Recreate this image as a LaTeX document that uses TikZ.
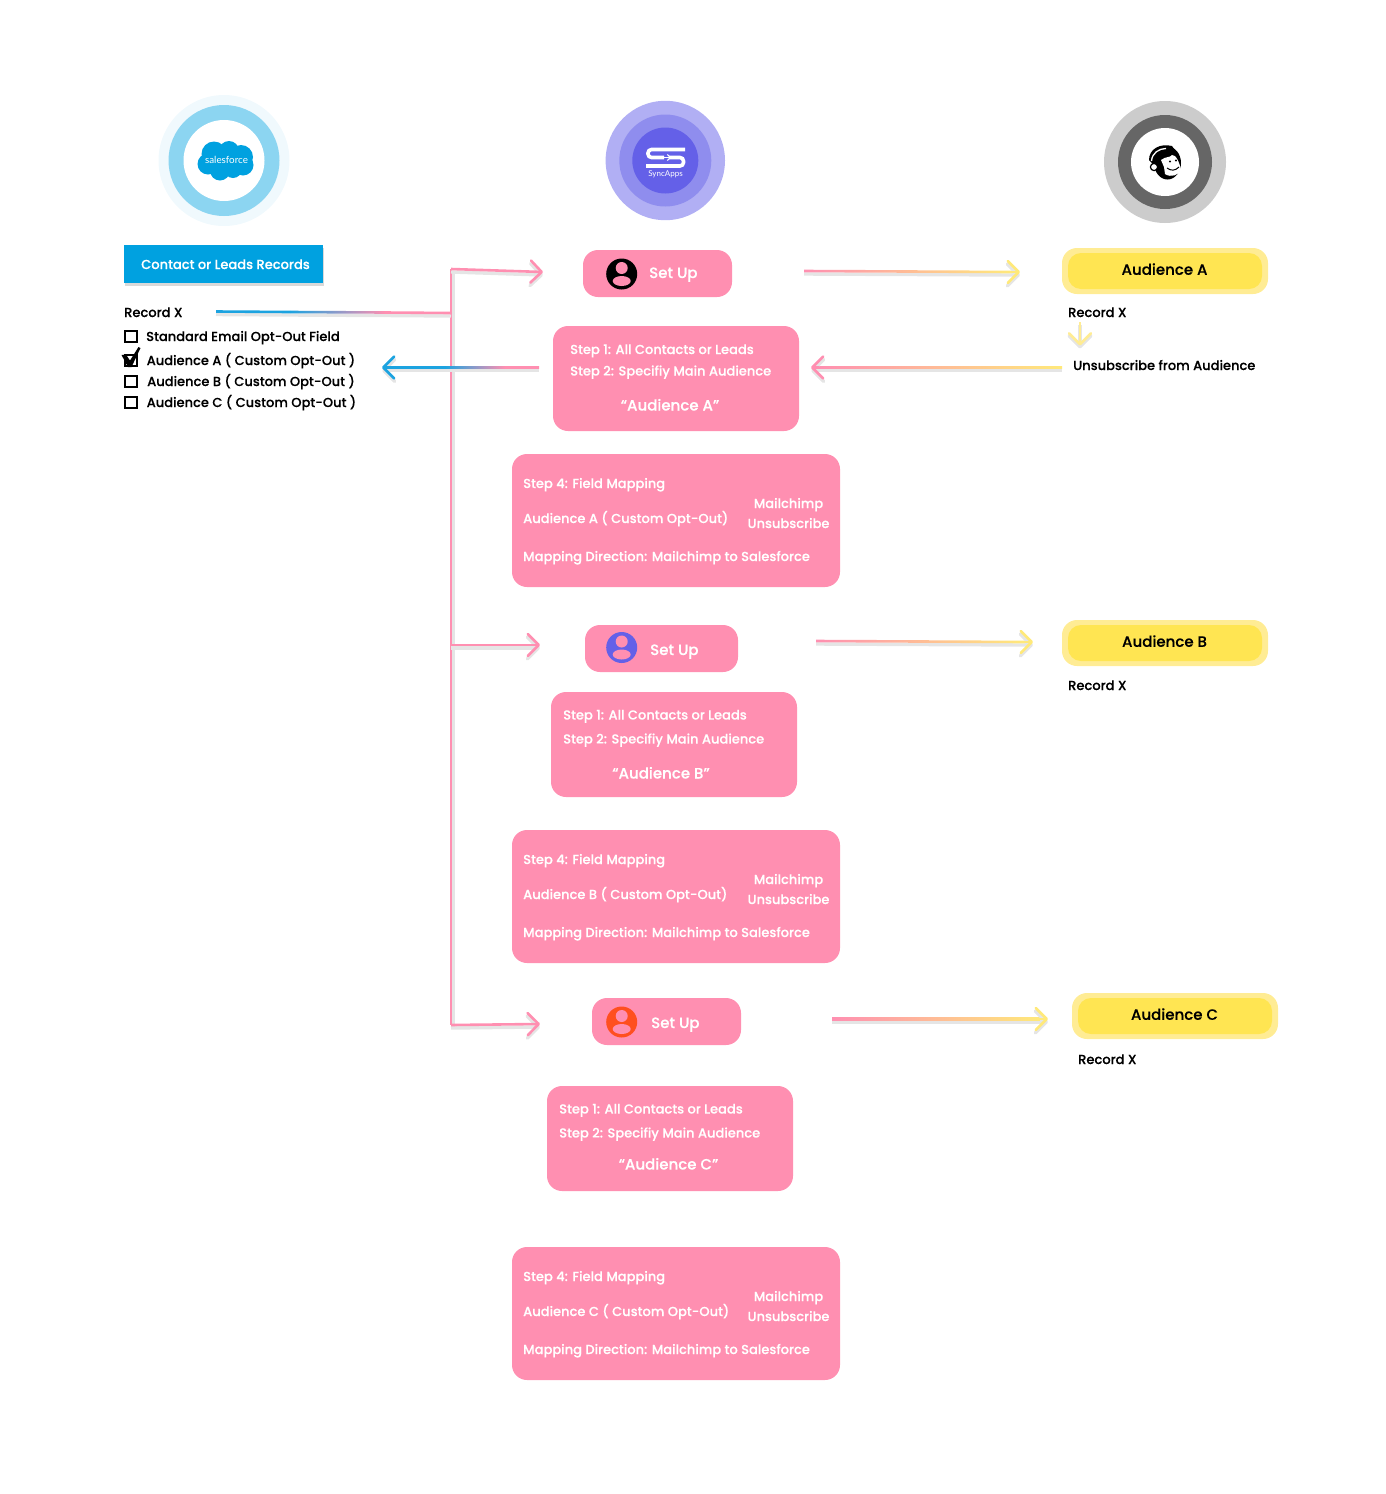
\documentclass[tikz,border=0pt]{standalone}
\usepackage{fontspec}
\setmainfont{Poppins Medium}[FakeBold=0.15]
\newfontfamily\logofont{Lato}
\usetikzlibrary{calc,arrows.meta,shadows}

\definecolor{sfblue}{HTML}{00A1E0}
\definecolor{linkblue}{HTML}{1CA3E0}
\definecolor{boxpink}{HTML}{FF8FB1}
\definecolor{audyellow}{HTML}{FFE552}
\definecolor{audpale}{HTML}{FFEC94}
\definecolor{linkyellow}{HTML}{FFE97A}
\definecolor{syncdark}{HTML}{6460E8}
\definecolor{userorange}{HTML}{FF4F1F}

\newcommand{\fsz}[1]{\fontsize{#1}{#1}\selectfont}
% colour run between two named points (left one first), with a soft shadow under it
\newcommand{\gradlink}[4]{
	\draw[linkshadow] ($(#1)+(0,3)$) -- ($(#2)+(0,3)$);
	\shade[left color=#3,middle color=#4!60!#3,right color=#4]
	($(#1)+(0,-1.3)$) -- ($(#1)+(0,1.3)$) -- ($(#2)+(0,1.3)$) -- ($(#2)+(0,-1.3)$) -- cycle;
}
\newcommand{\linkhead}[3]{
	\draw[linkshadow,linktip] ($(#1)+(0,3)$) -- ($(#2)+(0,3)$);
	\draw[linkline,linktip,color=#3] (#1) -- (#2);
}

\begin{document}
\begin{tikzpicture}[x=1pt,y=-1pt,
	linkline/.style={line width=2.6pt},
	linkshadow/.style={line width=3.4pt,black!10},
	linktip/.style={-{Straight Barb[length=11pt,width=22pt,round]}},
	pinkbox/.style={draw=none,fill=boxpink,rounded corners=15pt,inner sep=0pt},
	audbox/.style={draw=none,fill=audyellow,rounded corners=13pt,inner sep=0pt,minimum width=194pt,minimum height=36pt},
	audback/.style={draw=none,fill=audpale,rounded corners=15pt,inner sep=0pt,minimum width=206pt,minimum height=46pt},
	txt/.style={inner sep=0pt,text height=.9em,text depth=0pt,font=\fsz{13.05}},
	whitetxt/.style={txt,text=white},
	tick/.style={draw=black,line width=2pt,minimum size=11.5pt,inner sep=0pt}]
	\useasboundingbox (0,0) rectangle (1386,1494);

	% logos
	\foreach \r/\c in {65.5/sfblue!6,55.5/sfblue!45,40.5/white}
	\fill[\c] (224,160.5) circle[radius=\r pt];
	\foreach \x/\y/\r in {214/154/12.5,229/151/10,241/157/12,208/164/10.5,220/170.5/10,233/169/9,243/165/10.5,225/160/14}
	\fill[sfblue] (\x,\y) circle[radius=\r pt];
	\node[inner sep=0pt,text=white,font=\logofont\fsz{9.8}] (sflabel) at (226.5,159.5) {salesforce};

	\foreach \r/\c in {59.7/syncdark!50,46/syncdark!72,33/syncdark}
	\fill[\c] (665.3,160.5) circle[radius=\r pt];
	\draw[white,line width=3.6pt,rounded corners=3.5pt] (685,149.5) -- (648,149.5) -- (648,157.5) -- (664,157.5);
	\draw[white,line width=3.6pt,rounded corners=3.5pt] (669,157.5) -- (683.5,157.5) -- (683.5,166) -- (646,166);
	\draw[white,line width=1pt,-{Straight Barb[length=3pt,width=6pt]}] (664,157.5) -- (671,157.5);
	\node[inner sep=0pt,text=white,font=\logofont\fsz{8}] (synclabel) at (665.5,174) {SyncApps};

	\foreach \r/\c in {61/black!20,47/black!60,34/white}
	\fill[\c] (1165,162) circle[radius=\r pt];
	\fill[black] (1167.5,163) ellipse[x radius=13.5pt,y radius=16.5pt];
	\fill[black] (1149,160) .. controls (1149,149) and (1160,143) .. (1172,146) -- (1178,155) -- (1160,172) -- cycle;
	\draw[white,line width=1.3pt] (1151.5,161) .. controls (1152,153) and (1159,148.5) .. (1166,148.5);
	\fill[white] (1161,160) .. controls (1166,156) and (1170,158) .. (1172,155) .. controls (1176,154) and (1180,164) .. (1181,170) .. controls (1179,175) and (1171,178) .. (1165,174) -- (1164,167) -- cycle;
	\draw[black,line width=1pt] (1167,168) .. controls (1171,171) and (1175,171) .. (1179,167);
	\fill[black] (1170,161.5) circle[radius=1.2pt] (1176,160.5) circle[radius=1.2pt];
	\draw[black,fill=white,line width=1.2pt] (1154,167) circle[radius=3.6pt];

	% left column
	\node[draw=none,fill=sfblue,inner sep=0pt,minimum width=199pt,minimum height=38pt,
	drop shadow={opacity=.3,shadow xshift=1pt,shadow yshift=-3pt}] (records) at (223.5,264) {};
	\node[whitetxt] (recordstxt) at (225.5,264.5) {Contact or Leads Records};
	\node[txt,anchor=west] (recordx) at (124,312.5) {Record X};
	\foreach \n/\y/\tx/\t in {std/336.5/146/Standard Email Opt-Out Field,
		auda/360.5/146.5/Audience A ( Custom Opt-Out ),
		audb/381.5/147/Audience B ( Custom Opt-Out ),
		audc/402.5/146.5/Audience C ( Custom Opt-Out )}
	{\node[tick] (tick\n) at (131,\y) {};
		\node[txt,anchor=west] (lab\n) at (\tx,\y) {\t};}
	\fill[black] (121.5,355) -- (126,354.5) -- (130,360.5) -- (138.5,347) -- (140.5,348) -- (131.5,367) -- (128,367) -- cycle;

	% pink boxes
	\foreach \n/\x/\y/\w in {a/657.5/273.5/149,b/661.5/648.5/153,c/666.5/1021.5/149}
	\node[pinkbox,minimum width=\w pt,minimum height=47pt] (setup\n) at (\x,\y) {};
	\node[pinkbox,minimum width=246pt,minimum height=105pt] (stepa) at (676,378.5) {};
	\node[pinkbox,minimum width=246pt,minimum height=105pt] (stepb) at (674,744.5) {};
	\node[pinkbox,minimum width=246pt,minimum height=105pt] (stepc) at (670,1138.5) {};
	\foreach \n/\y in {a/520.5,b/896.5,c/1313.5}
	\node[pinkbox,minimum width=328pt,minimum height=133pt] (field\n) at (676,\y) {};

	% user icons
	\foreach \c/\x/\y in {black/621.7/274,syncdark/621.7/647.5,userorange/621.7/1022}
	{\fill[\c] (\x,\y) circle[radius=15.5pt];
		\fill[boxpink] (\x,\y-6) circle[radius=6pt];
		\fill[boxpink] (\x,\y+7) ellipse[x radius=9pt,y radius=5pt];}
	\foreach \n/\x/\y in {a/649/273.5,b/650/650.5,c/651/1023.5}
	\node[whitetxt,anchor=west,font=\fsz{15}] (setuptxt\n) at (\x,\y) {Set Up};

	\foreach \n/\x/\ya/\yb/\cx/\yc/\l in {a/570/349.5/371/670/406/A,b/563/715/739/661/774/B,c/559/1109/1133/668.5/1165/C}
	{\node[whitetxt,anchor=west] (stepone\n) at (\x,\ya) {Step 1: All Contacts or Leads};
		\node[whitetxt,anchor=west] (steptwo\n) at (\x,\yb) {Step 2: Specifiy Main Audience};
		\node[whitetxt,font=\fsz{15}] (stepname\n) at (\cx,\yc) {“Audience \l”};}

	\foreach \n/\y/\l in {a/0/A,b/376/B,c/793/C}
	{\node[whitetxt,anchor=west] (fieldone\n) at (523,483.5+\y) {Step 4: Field Mapping};
		\node[whitetxt,anchor=west] (fieldtwo\n) at (523,518.5+\y) {Audience \l\ ( Custom Opt-Out)};
		\node[whitetxt] (fieldmc\n) at (788.5,503.5+\y) {Mailchimp};
		\node[whitetxt] (fieldun\n) at (788.5,523.5+\y) {Unsubscribe};
		\node[whitetxt,anchor=west] (fielddir\n) at (523,556.5+\y) {Mapping Direction: Mailchimp to Salesforce};}

	% audiences
	\foreach \n/\x/\y/\l/\rx/\ry in {a/1165/271/A/1068/312.5,b/1165/643/B/1068/685.5,c/1175/1016/C/1078/1059.5}
	{\node[audback] (audback\n) at (\x,\y) {};
		\node[audbox] (aud\n) at (\x,\y) {};
		\node[txt,font=\fsz{15}] (audtxt\n) at (\x-.5,\y-.7) {Audience \l};
		\node[txt,anchor=west] (record\n) at (\rx,\ry) {Record X};}
	\node[txt,anchor=west] (unsub) at (1073,365.5) {Unsubscribe from Audience};

	% connectors
	\coordinate (spinetop) at (451,269);
	\coordinate (spinebot) at (451,1025);
	\coordinate (spinemid) at (451,645);
	\coordinate (spinerec) at (451,313);
	\draw[linkshadow] ($(spinetop)+(2,2)$) -- ($(spinebot)+(2,2)$);
	\draw[linkline,boxpink] (spinetop) -- (spinebot);

	\coordinate (recstart) at (216,311.5);
	\coordinate (recone) at (290,312);
	\coordinate (rectwo) at (385,312.5);
	\gradlink{recstart}{recone}{linkblue}{linkblue}
	\gradlink{recone}{rectwo}{linkblue}{boxpink}
	\gradlink{rectwo}{spinerec}{boxpink}{boxpink}

	\coordinate (tosetupa) at (543,272);
	\coordinate (tosetupb) at (540,645);
	\coordinate (tosetupc) at (540,1024);
	\linkhead{spinetop}{tosetupa}{boxpink}
	\linkhead{spinemid}{tosetupb}{boxpink}
	\linkhead{spinebot}{tosetupc}{boxpink}

	\foreach \n/\xa/\ya/\xb/\yb in {a/804/271/1020/272,b/816/641/1033/642,c/832/1019/1048/1019}
	{\coordinate (outs\n) at (\xa,\ya);
		\coordinate (oute\n) at (\xb-8,\yb);
		\coordinate (outt\n) at (\xb,\yb);
		\gradlink{outs\n}{oute\n}{boxpink}{linkyellow}
		\linkhead{oute\n}{outt\n}{linkyellow}}

	\coordinate (backa) at (539,367.5);
	\coordinate (backb) at (505,367.5);
	\coordinate (backc) at (445,367.5);
	\coordinate (backd) at (382,367.5);
	\gradlink{backb}{backa}{boxpink}{boxpink}
	\gradlink{backc}{backb}{linkblue}{boxpink}
	\linkhead{backc}{backd}{linkblue}

	\coordinate (unsubs) at (1062,367.5);
	\coordinate (unsube) at (819,367.5);
	\coordinate (unsubt) at (811,367.5);
	\gradlink{unsube}{unsubs}{boxpink}{linkyellow}
	\linkhead{unsube}{unsubt}{boxpink}

	\coordinate (downs) at (1080,322);
	\coordinate (downe) at (1080,345.5);
	\linkhead{downs}{downe}{audpale}
\end{tikzpicture}
\end{document}
